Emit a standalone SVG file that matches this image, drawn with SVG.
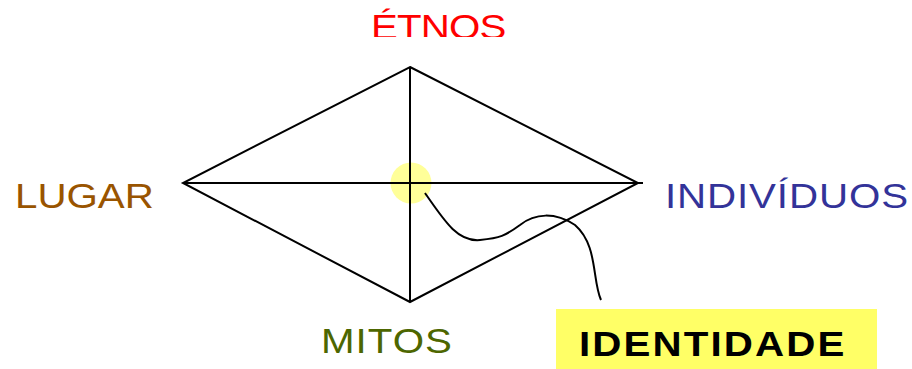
<svg xmlns="http://www.w3.org/2000/svg" width="912" height="369" viewBox="0 0 912 369">
  <style>
    .lbl { font-family: "Liberation Sans", Arial, sans-serif; font-size: 36px; }
    .edge { fill: none; stroke: #000; stroke-width: 2; }
  </style>
  <defs>
    <clipPath id="topClip">
      <rect x="0" y="0" width="912" height="37"/>
    </clipPath>
  </defs>
  <rect width="912" height="369" fill="#fff"/>

  <!-- focal point at the centre of the diamond -->
  <g id="centre">
    <circle cx="411" cy="183" r="20.5" fill="#FFFF99"/>
  </g>

  <g id="connectors">
    <path class="edge" d="M410,67 L638,183 L410,302 L183,183 Z"/>
    <line class="edge" x1="183" y1="183" x2="643" y2="183"/>
    <line class="edge" x1="410" y1="67" x2="410" y2="302"/>
    <path class="edge" stroke-width="1.6" d="M425,193 C445,222 458,242 480,240 C500,238 505,236 520,225 C535,213 555,212 575,225 C598,245 592,280 601,300"/>
  </g>

  <!-- labels are set in a horizontally widened face -->
  <g id="etnos" clip-path="url(#topClip)">
    <text class="lbl" transform="translate(371,39) scale(1.12,1)" fill="#FF0000" textLength="121" lengthAdjust="spacing">ÉTNOS</text>
  </g>
  <g id="lugar">
    <text class="lbl" transform="translate(15,208) scale(1.12,1)" fill="#995400" textLength="124" lengthAdjust="spacing">LUGAR</text>
  </g>
  <g id="individuos">
    <text class="lbl" transform="translate(665,208) scale(1.12,1)" fill="#333399" textLength="217" lengthAdjust="spacing">INDIVÍDUOS</text>
  </g>
  <g id="mitos">
    <text class="lbl" transform="translate(321,353) scale(1.12,1)" fill="#4D6600" textLength="117" lengthAdjust="spacing">MITOS</text>
  </g>
  <g id="identidade">
    <rect x="556" y="309" width="321" height="60" fill="#FFFF66"/>
    <text class="lbl" transform="translate(579,356) scale(1.12,1)" font-weight="bold" fill="#000" textLength="237" lengthAdjust="spacing">IDENTIDADE</text>
  </g>
</svg>
